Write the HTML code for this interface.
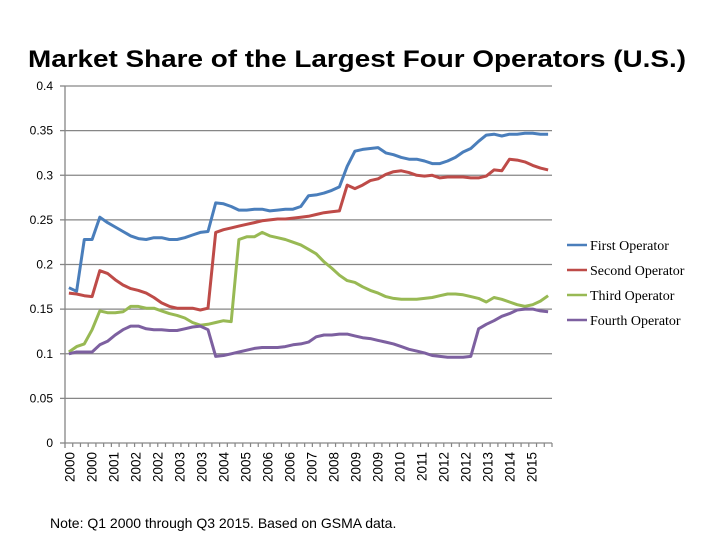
<!DOCTYPE html>
<html><head><meta charset="utf-8"><style>
body{margin:0;background:#fff;width:720px;height:540px;overflow:hidden}
svg{font-family:"Liberation Sans",sans-serif}
</style></head><body>
<svg id="chart" width="720" height="540">
<text x="357" y="67" text-anchor="middle" font-size="24" font-weight="bold" textLength="658" lengthAdjust="spacingAndGlyphs" fill="#000">Market Share of the Largest Four Operators (U.S.)</text>
<text x="50" y="528" font-size="14" fill="#000">Note: Q1 2000 through Q3 2015. Based on GSMA data.</text>
<g id="grid"></g><g id="axes"></g><g id="lines"></g><g id="legend"></g>
</svg>
<script>
const categoryLabels=["2000","2000","2001","2002","2002","2003","2003","2004","2005","2006","2006","2007","2008","2009","2009","2010","2011","2012","2012","2013","2014","2015"];
const yTicks=[0,0.05,0.1,0.15,0.2,0.25,0.3,0.35,0.4];
const yTickLabels=["0","0.05","0.1","0.15","0.2","0.25","0.3","0.35","0.4"];
const seriesNames=["First Operator","Second Operator","Third Operator","Fourth Operator"];
const firstOp=[0.174,0.170,0.228,0.228,0.253,0.247,0.242,0.237,0.232,0.229,0.228,0.230,0.230,0.228,0.228,0.230,0.233,0.236,0.237,0.269,0.268,0.265,0.261,0.261,0.262,0.262,0.260,0.261,0.262,0.262,0.265,0.277,0.278,0.280,0.283,0.287,0.310,0.327,0.329,0.330,0.331,0.325,0.323,0.320,0.318,0.318,0.316,0.313,0.313,0.316,0.320,0.326,0.330,0.338,0.345,0.346,0.344,0.346,0.346,0.347,0.347,0.346,0.346];
const secondOp=[0.168,0.167,0.165,0.164,0.193,0.190,0.183,0.177,0.173,0.171,0.168,0.163,0.157,0.153,0.151,0.151,0.151,0.149,0.151,0.236,0.239,0.241,0.243,0.245,0.247,0.249,0.250,0.251,0.251,0.252,0.253,0.254,0.256,0.258,0.259,0.260,0.289,0.285,0.289,0.294,0.296,0.301,0.304,0.305,0.303,0.300,0.299,0.300,0.297,0.298,0.298,0.298,0.297,0.297,0.299,0.306,0.305,0.318,0.317,0.315,0.311,0.308,0.306];
const thirdOp=[0.102,0.108,0.111,0.127,0.148,0.146,0.146,0.147,0.153,0.153,0.151,0.151,0.148,0.145,0.143,0.140,0.135,0.132,0.133,0.135,0.137,0.136,0.228,0.231,0.231,0.236,0.232,0.230,0.228,0.225,0.222,0.217,0.212,0.203,0.196,0.188,0.182,0.180,0.175,0.171,0.168,0.164,0.162,0.161,0.161,0.161,0.162,0.163,0.165,0.167,0.167,0.166,0.164,0.162,0.158,0.163,0.161,0.158,0.155,0.153,0.155,0.159,0.165];
const fourthOp=[0.100,0.102,0.102,0.102,0.110,0.114,0.121,0.127,0.131,0.131,0.128,0.127,0.127,0.126,0.126,0.128,0.130,0.131,0.127,0.097,0.098,0.100,0.102,0.104,0.106,0.107,0.107,0.107,0.108,0.110,0.111,0.113,0.119,0.121,0.121,0.122,0.122,0.120,0.118,0.117,0.115,0.113,0.111,0.108,0.105,0.103,0.101,0.098,0.097,0.096,0.096,0.096,0.097,0.128,0.133,0.137,0.142,0.145,0.149,0.150,0.150,0.148,0.147];
const seriesColors=["#4a7ebb","#be4b48","#98b954","#7d60a0"];
const NS="http://www.w3.org/2000/svg";
const L=65,R=552,T=86,B=443,N=firstOp.length;
const step=(R-L)/N;
const xs=i=>L+step*(i+0.5);
const ys=v=>B-(v/0.4)*(B-T);
function mk(t,a,p){const e=document.createElementNS(NS,t);for(const k in a)e.setAttribute(k,a[k]);p.appendChild(e);return e;}
const grid=document.getElementById('grid'),axes=document.getElementById('axes'),lines=document.getElementById('lines'),legend=document.getElementById('legend');
yTicks.forEach((v,i)=>{
  if(v>0){const g=mk('line',{x1:L,x2:R,y1:ys(v),y2:ys(v),stroke:'#868686','stroke-width':1.3},grid);
  
  }
  const tk=mk('line',{x1:L-5,x2:L,y1:ys(v),y2:ys(v),stroke:'#868686','stroke-width':1.3},axes);
  
  
  const t=mk('text',{x:53,y:ys(v)+4,'text-anchor':'end','font-size':12,fill:'#000'},axes);
  t.textContent=yTickLabels[i];
  
  
});
const ya=mk('line',{x1:L,x2:L,y1:T,y2:B+5,stroke:'#868686','stroke-width':1.3},axes);


const xa=mk('line',{x1:L,x2:R,y1:B,y2:B,stroke:'#868686','stroke-width':1.3},axes);


for(let i=1;i<=N;i++){
  const tk=mk('line',{x1:L+step*i,x2:L+step*i,y1:B,y2:B+4,stroke:'#868686','stroke-width':1.2},axes);
  
  
}
const labStep=(531.7-69.3)/(categoryLabels.length-1);
categoryLabels.forEach((lab,k)=>{
  const x=69.3+k*labStep;
  const t=mk('text',{x:0,y:0,'text-anchor':'end','font-size':13.5,fill:'#000',transform:`translate(${(x+5).toFixed(1)},${B+9}) rotate(-90)`},axes);
  t.textContent=lab;
  
  
});
[firstOp,secondOp,thirdOp,fourthOp].forEach((s,j)=>{
  const p=mk('polyline',{points:s.map((v,i)=>xs(i).toFixed(1)+','+ys(v).toFixed(1)).join(' '),fill:'none',stroke:seriesColors[j],'stroke-width':3,'stroke-linejoin':'round'},lines);
  
  
  const ly=245+j*25;
  const ll=mk('line',{x1:567,x2:587,y1:ly,y2:ly,stroke:seriesColors[j],'stroke-width':2.5},legend);
  
  
  const lt=mk('text',{x:590,y:ly+5,'font-size':14,fill:'#000','font-family':'Liberation Serif, serif'},legend);
  lt.textContent=seriesNames[j];
  
  
});
</script>
</body></html>
